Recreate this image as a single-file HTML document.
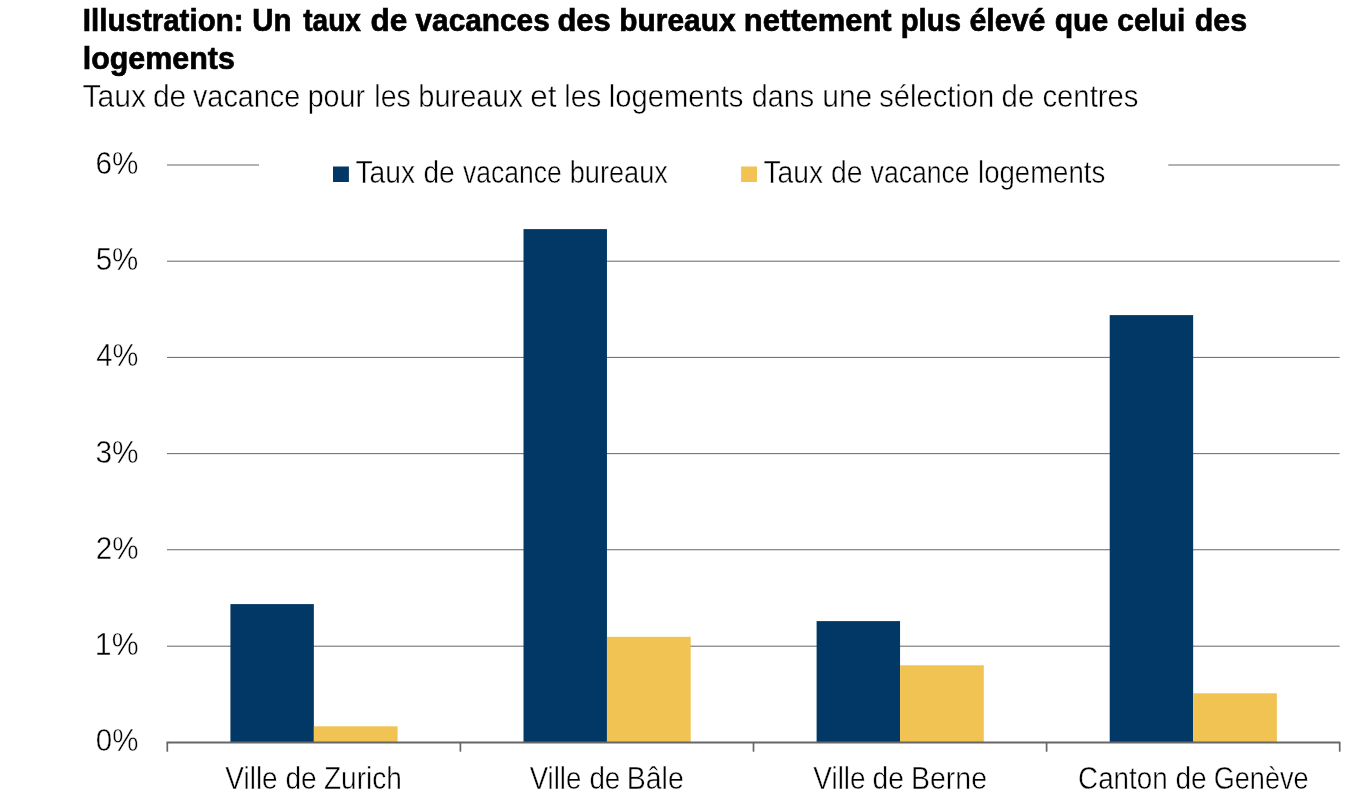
<!DOCTYPE html>
<html lang="fr"><head><meta charset="utf-8"><title>Taux de vacance</title>
<style>
html,body{margin:0;padding:0;background:#fff;}
body{width:1351px;height:796px;overflow:hidden;}
svg{display:block;}
text{font-family:"Liberation Sans",sans-serif;fill:#000;stroke:#fff;stroke-width:0.45px;font-size:31.6px;}
text.b{font-weight:bold;fill:#000;stroke:#000;stroke-width:0.7px;font-size:32.0px;}
</style></head><body>
<svg width="1351" height="796" viewBox="0 0 1351 796">
<rect width="1351" height="796" fill="#fff"/>
<line x1="167.0" x2="1339.7" y1="646.20" y2="646.20" stroke="#666" stroke-width="1"/>
<line x1="167.0" x2="1339.7" y1="549.75" y2="549.75" stroke="#666" stroke-width="1"/>
<line x1="167.0" x2="1339.7" y1="453.65" y2="453.65" stroke="#666" stroke-width="1"/>
<line x1="167.0" x2="1339.7" y1="357.40" y2="357.40" stroke="#666" stroke-width="1"/>
<line x1="167.0" x2="1339.7" y1="261.20" y2="261.20" stroke="#666" stroke-width="1"/>
<line x1="167.0" x2="1339.7" y1="165.00" y2="165.00" stroke="#666" stroke-width="1"/>
<rect x="259" y="155" width="909.3" height="40" fill="#fff"/>
<rect x="230.41" y="604.10" width="83.44" height="138.40" fill="#023865"/>
<rect x="313.85" y="726.30" width="83.74" height="16.20" fill="#F0C353"/>
<rect x="523.51" y="229.10" width="83.44" height="513.40" fill="#023865"/>
<rect x="606.95" y="636.80" width="83.74" height="105.70" fill="#F0C353"/>
<rect x="816.61" y="621.10" width="83.44" height="121.40" fill="#023865"/>
<rect x="900.05" y="665.30" width="83.74" height="77.20" fill="#F0C353"/>
<rect x="1109.71" y="315.10" width="83.44" height="427.40" fill="#023865"/>
<rect x="1193.15" y="693.30" width="83.74" height="49.20" fill="#F0C353"/>
<line x1="166.5" x2="1340.3" y1="742.55" y2="742.55" stroke="#666" stroke-width="2.1"/>
<line x1="167.30" x2="167.30" y1="742.5" y2="751.7" stroke="#666" stroke-width="1.7"/>
<line x1="460.40" x2="460.40" y1="742.5" y2="751.7" stroke="#666" stroke-width="1.7"/>
<line x1="753.50" x2="753.50" y1="742.5" y2="751.7" stroke="#666" stroke-width="1.7"/>
<line x1="1046.60" x2="1046.60" y1="742.5" y2="751.7" stroke="#666" stroke-width="1.7"/>
<line x1="1339.70" x2="1339.70" y1="742.5" y2="751.7" stroke="#666" stroke-width="1.7"/>
<rect x="333" y="166.5" width="15.9" height="15.5" fill="#023865"/>
<rect x="741.1" y="166.5" width="15.9" height="15.5" fill="#F0C353"/>
<text y="31.1" class="b"><tspan x="82.87" textLength="160.65" lengthAdjust="spacingAndGlyphs">Illustration:</tspan> <tspan x="252.22" textLength="39.22" lengthAdjust="spacingAndGlyphs">Un</tspan> <tspan x="303.28" textLength="57.62" lengthAdjust="spacingAndGlyphs">taux</tspan> <tspan x="370.51" textLength="36.88" lengthAdjust="spacingAndGlyphs">de</tspan> <tspan x="415.55" textLength="134.21" lengthAdjust="spacingAndGlyphs">vacances</tspan> <tspan x="557.48" textLength="53.31" lengthAdjust="spacingAndGlyphs">des</tspan> <tspan x="619.35" textLength="116.23" lengthAdjust="spacingAndGlyphs">bureaux</tspan> <tspan x="743.85" textLength="147.72" lengthAdjust="spacingAndGlyphs">nettement</tspan> <tspan x="900.67" textLength="60.32" lengthAdjust="spacingAndGlyphs">plus</tspan> <tspan x="969.46" textLength="76.02" lengthAdjust="spacingAndGlyphs">élevé</tspan> <tspan x="1054.63" textLength="53.59" lengthAdjust="spacingAndGlyphs">que</tspan> <tspan x="1117.35" textLength="68.02" lengthAdjust="spacingAndGlyphs">celui</tspan> <tspan x="1194.78" textLength="52.40" lengthAdjust="spacingAndGlyphs">des</tspan></text>
<text y="69.2" class="b"><tspan x="82.78" textLength="152.10" lengthAdjust="spacingAndGlyphs">logements</tspan></text>
<text y="107.0"><tspan x="82.49" textLength="63.59" lengthAdjust="spacingAndGlyphs">Taux</tspan> <tspan x="152.93" textLength="33.41" lengthAdjust="spacingAndGlyphs">de</tspan> <tspan x="192.95" textLength="107.35" lengthAdjust="spacingAndGlyphs">vacance</tspan> <tspan x="307.65" textLength="57.30" lengthAdjust="spacingAndGlyphs">pour</tspan> <tspan x="374.33" textLength="36.35" lengthAdjust="spacingAndGlyphs">les</tspan> <tspan x="418.30" textLength="104.82" lengthAdjust="spacingAndGlyphs">bureaux</tspan> <tspan x="530.31" textLength="26.16" lengthAdjust="spacingAndGlyphs">et</tspan> <tspan x="564.35" textLength="36.99" lengthAdjust="spacingAndGlyphs">les</tspan> <tspan x="608.77" textLength="134.62" lengthAdjust="spacingAndGlyphs">logements</tspan> <tspan x="751.78" textLength="62.30" lengthAdjust="spacingAndGlyphs">dans</tspan> <tspan x="822.19" textLength="50.13" lengthAdjust="spacingAndGlyphs">une</tspan> <tspan x="879.30" textLength="114.94" lengthAdjust="spacingAndGlyphs">sélection</tspan> <tspan x="1001.61" textLength="32.70" lengthAdjust="spacingAndGlyphs">de</tspan> <tspan x="1042.39" textLength="96.11" lengthAdjust="spacingAndGlyphs">centres</tspan></text>
<text y="183.0"><tspan x="355.44" textLength="59.62" lengthAdjust="spacingAndGlyphs">Taux</tspan> <tspan x="423.44" textLength="31.32" lengthAdjust="spacingAndGlyphs">de</tspan> <tspan x="463.08" textLength="98.58" lengthAdjust="spacingAndGlyphs">vacance</tspan> <tspan x="569.78" textLength="98.04" lengthAdjust="spacingAndGlyphs">bureaux</tspan></text>
<text y="183.0"><tspan x="763.44" textLength="59.55" lengthAdjust="spacingAndGlyphs">Taux</tspan> <tspan x="830.90" textLength="31.55" lengthAdjust="spacingAndGlyphs">de</tspan> <tspan x="870.61" textLength="99.04" lengthAdjust="spacingAndGlyphs">vacance</tspan> <tspan x="978.03" textLength="127.23" lengthAdjust="spacingAndGlyphs">logements</tspan></text>
<text y="751.1"><tspan x="95.77" textLength="42.66" lengthAdjust="spacingAndGlyphs">0%</tspan></text>
<text y="654.9"><tspan x="94.84" textLength="43.70" lengthAdjust="spacingAndGlyphs">1%</tspan></text>
<text y="558.7"><tspan x="95.72" textLength="42.77" lengthAdjust="spacingAndGlyphs">2%</tspan></text>
<text y="462.5"><tspan x="95.42" textLength="43.12" lengthAdjust="spacingAndGlyphs">3%</tspan></text>
<text y="366.3"><tspan x="96.34" textLength="42.07" lengthAdjust="spacingAndGlyphs">4%</tspan></text>
<text y="270.1"><tspan x="95.65" textLength="42.75" lengthAdjust="spacingAndGlyphs">5%</tspan></text>
<text y="173.9"><tspan x="95.58" textLength="42.89" lengthAdjust="spacingAndGlyphs">6%</tspan></text>
<text y="789.2"><tspan x="225.36" textLength="52.27" lengthAdjust="spacingAndGlyphs">Ville</tspan> <tspan x="285.38" textLength="31.27" lengthAdjust="spacingAndGlyphs">de</tspan> <tspan x="323.96" textLength="77.83" lengthAdjust="spacingAndGlyphs">Zurich</tspan></text>
<text y="789.2"><tspan x="529.66" textLength="51.64" lengthAdjust="spacingAndGlyphs">Ville</tspan> <tspan x="589.39" textLength="30.94" lengthAdjust="spacingAndGlyphs">de</tspan> <tspan x="626.73" textLength="57.07" lengthAdjust="spacingAndGlyphs">Bâle</tspan></text>
<text y="789.2"><tspan x="813.37" textLength="52.22" lengthAdjust="spacingAndGlyphs">Ville</tspan> <tspan x="872.59" textLength="31.37" lengthAdjust="spacingAndGlyphs">de</tspan> <tspan x="910.90" textLength="76.10" lengthAdjust="spacingAndGlyphs">Berne</tspan></text>
<text y="789.2"><tspan x="1078.10" textLength="89.60" lengthAdjust="spacingAndGlyphs">Canton</tspan> <tspan x="1175.38" textLength="31.27" lengthAdjust="spacingAndGlyphs">de</tspan> <tspan x="1213.75" textLength="94.84" lengthAdjust="spacingAndGlyphs">Genève</tspan></text>
</svg></body></html>
